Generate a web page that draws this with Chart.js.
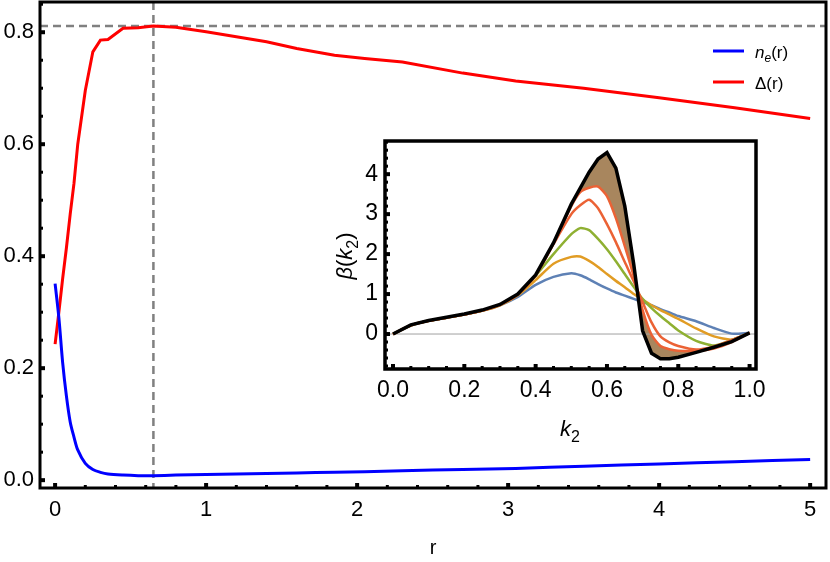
<!DOCTYPE html>
<html>
<head>
<meta charset="utf-8">
<script src="https://cdn.jsdelivr.net/npm/chart.js@4.4.1/dist/chart.umd.min.js"></script>
<style>
  html, body { margin:0; padding:0; background:#fff; overflow:hidden; }
  #wrap { position:relative; width:830px; height:562px; }
  #main { position:absolute; left:0; top:0; }
  #inset { position:absolute; left:300px; top:120px; }
</style>
</head>
<body>
<div id="wrap">
  <canvas id="main" width="830" height="562"></canvas>
  <canvas id="inset" width="480" height="340"></canvas>
</div>
<script>
// main plot: n_e(r) and Delta(r)
var rVals     = [0, 0.025, 0.05, 0.075, 0.1, 0.125, 0.15, 0.2, 0.25, 0.3, 0.35, 0.45, 0.55, 0.65, 0.8, 1, 1.4, 1.6, 1.85, 2.05, 2.3, 2.7, 3.05, 3.5, 4, 4.5, 5];
var neVals    = [0.351, 0.29, 0.21, 0.15, 0.104, 0.077, 0.054, 0.03, 0.019, 0.014, 0.011, 0.009, 0.008, 0.008, 0.009, 0.01, 0.012, 0.013, 0.014, 0.015, 0.017, 0.019, 0.021, 0.025, 0.029, 0.033, 0.037];
var deltaVals = [0.243, 0.30, 0.36, 0.415, 0.475, 0.53, 0.60, 0.696, 0.765, 0.786, 0.787, 0.807, 0.808, 0.811, 0.809, 0.801, 0.783, 0.771, 0.759, 0.753, 0.747, 0.727, 0.713, 0.700, 0.683, 0.665, 0.646];
var rTicks = [0, 1, 2, 3, 4, 5];
var yTicks = [0, 0.2, 0.4, 0.6, 0.8];
var peakR = 0.651;
var peakDelta = 0.811;

// inset: beta(k2) for growing parameter, black = last curve
var kVals  = [0, 0.05, 0.1, 0.15, 0.2, 0.25, 0.3, 0.35, 0.4, 0.45, 0.5, 0.525, 0.55, 0.575, 0.6, 0.625, 0.65, 0.675, 0.7, 0.725, 0.75, 0.775, 0.8, 0.85, 0.9, 0.95, 1.0];
var beta1  = [0, 0.21, 0.33, 0.41, 0.49, 0.58, 0.72, 0.93, 1.23, 1.43, 1.52, 1.47, 1.37, 1.25, 1.14, 1.04, 0.96, 0.88, 0.8, 0.72, 0.62, 0.54, 0.45, 0.32, 0.15, 0.01, 0.03];
var beta2  = [0, 0.21, 0.33, 0.41, 0.49, 0.58, 0.72, 0.97, 1.35, 1.76, 1.93, 1.94, 1.83, 1.68, 1.5, 1.33, 1.17, 1.0, 0.86, 0.72, 0.6, 0.49, 0.38, 0.14, -0.06, -0.14, 0.03];
var beta3  = [0, 0.22, 0.33, 0.41, 0.49, 0.59, 0.73, 0.99, 1.46, 2.0, 2.5, 2.65, 2.6, 2.38, 2.12, 1.82, 1.5, 1.18, 0.88, 0.65, 0.45, 0.27, 0.09, -0.17, -0.29, -0.15, 0.03];
var beta4  = [0, 0.22, 0.33, 0.41, 0.49, 0.59, 0.73, 0.99, 1.47, 2.25, 3.0, 3.22, 3.36, 3.15, 2.75, 2.3, 1.8, 1.32, 0.8, 0.29, -0.06, -0.21, -0.3, -0.39, -0.31, -0.15, 0.03];
var beta5  = [0, 0.22, 0.33, 0.41, 0.49, 0.59, 0.73, 0.99, 1.47, 2.27, 3.2, 3.55, 3.66, 3.69, 3.45, 2.9, 2.2, 1.45, 0.6, -0.02, -0.3, -0.38, -0.42, -0.42, -0.36, -0.2, 0.03];
var betaMax = [0, 0.23, 0.34, 0.42, 0.50, 0.60, 0.74, 1.00, 1.48, 2.28, 3.25, 3.65, 4.05, 4.38, 4.54, 4.15, 3.2, 1.75, 0.08, -0.48, -0.62, -0.62, -0.58, -0.46, -0.33, -0.19, 0.03];
var kTicks = [0, 0.2, 0.4, 0.6, 0.8, 1.0];
var betaTicks = [0, 1, 2, 3, 4];

var FONT = "'Liberation Sans', Arial, sans-serif";

function pts(xs, ys) {
  return xs.map(function(x, i) { return {x: x, y: ys[i]}; });
}

function noPad(s) {
  s.paddingTop = 0; s.paddingBottom = 0; s.paddingLeft = 0; s.paddingRight = 0;
}

// Mathematica-like frame with inward ticks
function framePlugin(o) {
  return {
    id: 'frame',
    afterDatasetsDraw: function(chart) {
      var ctx = chart.ctx, a = chart.chartArea, xs = chart.scales.x, ys = chart.scales.y;
      ctx.save();
      ctx.strokeStyle = '#000';
      var v, p;
      for (v = Math.ceil(xs.min / o.xStep) * o.xStep; v <= xs.max; v += o.xStep) {
        p = xs.getPixelForValue(v);
        var majX = o.xMajor.some(function(t) { return Math.abs(t - v) < 1e-6; });
        ctx.lineWidth = majX ? 4 : 3;
        ctx.beginPath(); ctx.moveTo(p, a.bottom); ctx.lineTo(p, a.bottom - (majX ? 5 : 3)); ctx.stroke();
      }
      for (v = Math.ceil(ys.min / o.yStep) * o.yStep; v <= ys.max; v += o.yStep) {
        p = ys.getPixelForValue(v);
        var majY = o.yMajor.some(function(t) { return Math.abs(t - v) < 1e-6; });
        ctx.lineWidth = majY ? 4 : 3;
        ctx.beginPath(); ctx.moveTo(a.left, p); ctx.lineTo(a.left + (majY ? 5 : 3), p); ctx.stroke();
      }
      ctx.lineWidth = o.frame;
      ctx.strokeRect(a.left, a.top, a.right - a.left, a.bottom - a.top);
      ctx.restore();
    }
  };
}

// text with italic / subscript pieces
function richText(ctx, parts, x, y, center) {
  var w = 0;
  parts.forEach(function(p) { ctx.font = p.f; w += ctx.measureText(p.t).width; });
  var cx = center ? x - w / 2 : x;
  ctx.textBaseline = 'alphabetic';
  ctx.textAlign = 'left';
  parts.forEach(function(p) {
    ctx.font = p.f;
    ctx.fillText(p.t, cx, y + (p.dy || 0));
    cx += ctx.measureText(p.t).width;
  });
}

var mainExtras = {
  id: 'mainExtras',
  beforeDatasetsDraw: function(chart) {
    var ctx = chart.ctx, a = chart.chartArea;
    var px = chart.scales.x.getPixelForValue(peakR);
    var py = chart.scales.y.getPixelForValue(peakDelta);
    ctx.save();
    ctx.strokeStyle = '#808080';
    ctx.lineWidth = 2.5;
    ctx.setLineDash([8, 5]);
    ctx.beginPath(); ctx.moveTo(a.left, py); ctx.lineTo(a.right, py); ctx.stroke();
    ctx.beginPath(); ctx.moveTo(px, a.top); ctx.lineTo(px, a.bottom); ctx.stroke();
    ctx.restore();
  },
  afterDraw: function(chart) {
    var ctx = chart.ctx;
    ctx.save();
    ctx.lineWidth = 3;
    ctx.strokeStyle = '#0000ff';
    ctx.beginPath(); ctx.moveTo(713, 51); ctx.lineTo(744, 51); ctx.stroke();
    ctx.strokeStyle = '#ff0000';
    ctx.beginPath(); ctx.moveTo(713, 82); ctx.lineTo(744, 82); ctx.stroke();
    ctx.fillStyle = '#000';
    richText(ctx, [
      {t: 'n', f: 'italic 17px ' + FONT},
      {t: 'e', f: 'italic 12px ' + FONT, dy: 4},
      {t: '(r)', f: '17px ' + FONT}
    ], 755, 58);
    richText(ctx, [{t: 'Δ(r)', f: '17px ' + FONT}], 755, 89);
    ctx.restore();
  }
};

new Chart(document.getElementById('main'), {
  type: 'line',
  data: {
    datasets: [
      { label: 'n_e(r)', data: pts(rVals, neVals), borderColor: '#0000ff', borderWidth: 3, pointRadius: 0, tension: 0.3, fill: false },
      { label: 'Δ(r)', data: pts(rVals, deltaVals), borderColor: '#ff0000', borderWidth: 3, pointRadius: 0, tension: 0, fill: false }
    ]
  },
  options: {
    responsive: false,
    animation: false,
    devicePixelRatio: 1,
    layout: { padding: { top: 2, right: 4, left: 0, bottom: 0 } },
    plugins: { legend: { display: false }, tooltip: { enabled: false } },
    scales: {
      x: {
        type: 'linear', min: -0.1, max: 5.105,
        afterBuildTicks: function(s) { s.ticks = rTicks.map(function(v) { return {value: v}; }); },
        afterFit: function(s) { s.height = 74; noPad(s); },
        grid: { display: false, drawTicks: false }, border: { display: false },
        ticks: { color: '#000', padding: 9, maxRotation: 0, autoSkip: false, font: { family: FONT, size: 22 },
                 callback: function(v) { return String(v); } },
        title: { display: true, text: 'r', color: '#000', font: { family: FONT, size: 20 }, padding: { top: 0, bottom: 2 } }
      },
      y: {
        type: 'linear', min: -0.014, max: 0.854,
        afterBuildTicks: function(s) { s.ticks = yTicks.map(function(v) { return {value: v}; }); },
        afterFit: function(s) { s.width = 40; noPad(s); },
        grid: { display: false, drawTicks: false }, border: { display: false },
        ticks: { color: '#000', padding: 6, autoSkip: false, font: { family: FONT, size: 22 },
                 callback: function(v) { return v.toFixed(1); } }
      }
    }
  },
  plugins: [mainExtras, framePlugin({ xStep: 0.2, yStep: 0.05, xMajor: rTicks, yMajor: yTicks, frame: 3 })]
});

var insetExtras = {
  id: 'insetExtras',
  beforeDatasetsDraw: function(chart) {
    var ctx = chart.ctx, a = chart.chartArea;
    var py = chart.scales.y.getPixelForValue(0);
    ctx.save();
    ctx.strokeStyle = '#a0a0a0';
    ctx.lineWidth = 1;
    ctx.beginPath(); ctx.moveTo(a.left, py); ctx.lineTo(a.right, py); ctx.stroke();
    ctx.restore();
  },
  afterDraw: function(chart) {
    var ctx = chart.ctx;
    ctx.save();
    ctx.fillStyle = '#000';
    richText(ctx, [
      {t: 'k', f: 'italic 22px ' + FONT},
      {t: '2', f: '16px ' + FONT, dy: 6}
    ], 270, 316, true);
    ctx.translate(52, 136);
    ctx.rotate(-Math.PI / 2);
    richText(ctx, [
      {t: 'β', f: 'italic 22px ' + FONT},
      {t: '(', f: '22px ' + FONT},
      {t: 'k', f: 'italic 22px ' + FONT},
      {t: '2', f: '16px ' + FONT, dy: 6},
      {t: ')', f: '22px ' + FONT}
    ], 0, 0, true);
    ctx.restore();
  }
};

function curve(ys, color, width, tension) {
  return { data: pts(kVals, ys), borderColor: color, borderWidth: width, pointRadius: 0, tension: tension, fill: false };
}

var blackSet = curve(betaMax, '#000000', 3.5, 0);
blackSet.fill = 1;
blackSet.backgroundColor = 'rgb(168,134,94)';

new Chart(document.getElementById('inset'), {
  type: 'line',
  data: {
    datasets: [
      blackSet,
      curve(beta5, '#eb6235', 2.5, 0.2),
      curve(beta4, '#eb6235', 2.5, 0.2),
      curve(beta3, '#8fb032', 2.5, 0.2),
      curve(beta2, '#e19c24', 2.5, 0.2),
      curve(beta1, '#5e81b5', 2.5, 0.2)
    ]
  },
  options: {
    responsive: false,
    animation: false,
    devicePixelRatio: 1,
    layout: { padding: { top: 21, right: 24, left: 0, bottom: 0 } },
    plugins: { legend: { display: false }, tooltip: { enabled: false }, filler: { drawTime: 'beforeDatasetsDraw' } },
    scales: {
      x: {
        type: 'linear', min: -0.0225, max: 1.018,
        afterBuildTicks: function(s) { s.ticks = kTicks.map(function(v) { return {value: v}; }); },
        afterFit: function(s) { s.height = 91; noPad(s); },
        grid: { display: false, drawTicks: false }, border: { display: false },
        ticks: { color: '#000', padding: 8, maxRotation: 0, autoSkip: false, font: { family: FONT, size: 23 },
                 callback: function(v) { return v.toFixed(1); } }
      },
      y: {
        type: 'linear', min: -0.875, max: 4.83,
        afterBuildTicks: function(s) { s.ticks = betaTicks.map(function(v) { return {value: v}; }); },
        afterFit: function(s) { s.width = 85; noPad(s); },
        grid: { display: false, drawTicks: false }, border: { display: false },
        ticks: { color: '#000', padding: 7, autoSkip: false, font: { family: FONT, size: 23 },
                 callback: function(v) { return String(v); } }
      }
    }
  },
  plugins: [insetExtras, framePlugin({ xStep: 0.05, yStep: 0.2, xMajor: kTicks, yMajor: betaTicks, frame: 3.5 })]
});
</script>
</body>
</html>
